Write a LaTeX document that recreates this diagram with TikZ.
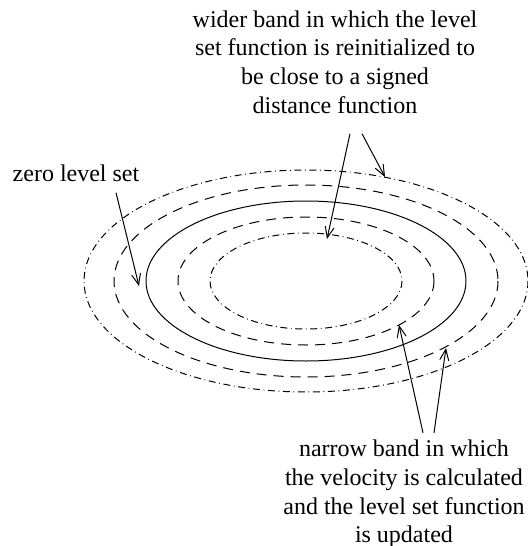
\documentclass[tikz,border=0pt]{standalone}
\usepackage{fontspec}
\setmainfont{Liberation Serif}
\usetikzlibrary{arrows.meta}

\begin{document}
\begin{tikzpicture}[
  x=0.5pt, y=-0.5pt,
  font=\fontsize{12}{14.3}\selectfont,
  contour/.style={line width=0.5pt},
  narrowline/.style={contour, dash pattern=on 5pt off 3.5pt},
  wideline/.style={contour, dash pattern=on 3.5pt off 1.8pt on 0.4pt off 1.8pt},
  note/.style={align=center, inner sep=0pt},
  pointer/.style={line width=0.5pt, -{Straight Barb[length=5.5pt, width=4.5pt]}}
]
\useasboundingbox (0,0) rectangle (528,546);

\coordinate (c) at (306,281);
\draw[wideline]   (c) ellipse [x radius=96,  y radius=48];
\draw[narrowline] (c) ellipse [x radius=128, y radius=64];
\draw[contour]    (c) ellipse [x radius=160, y radius=80];
\draw[narrowline] (c) ellipse [x radius=192, y radius=96];
\draw[wideline]   (c) ellipse [x radius=222, y radius=111];

\node[note] (wider) at (335,62) {wider band in which the level\\ set function is reinitialized to\\ be close to a signed\\ distance function};
\node[note, anchor=base] (zero) at (76,181) {zero level set};
\node[note] (narrow) at (404,494) {narrow band in which\\ the velocity is calculated\\ and the level set function\\ is updated};

\coordinate (zerotip) at (139,286);
\coordinate (innertip) at (327,239);
\coordinate (outertip) at (385,177);
\coordinate (bandtip) at (399,325);
\coordinate (edgetip) at (446,348);

\draw[pointer] ([shift={(40,11)}]zero.south) -- (zerotip);
\draw[pointer] ([shift={(15,20)}]wider.south) -- (innertip);
\draw[pointer] ([shift={(27,20)}]wider.south) -- (outertip);
\draw[pointer] ([shift={(19,-7)}]narrow.north) -- (bandtip);
\draw[pointer] ([shift={(30,-7)}]narrow.north) -- (edgetip);
\end{tikzpicture}
\end{document}
